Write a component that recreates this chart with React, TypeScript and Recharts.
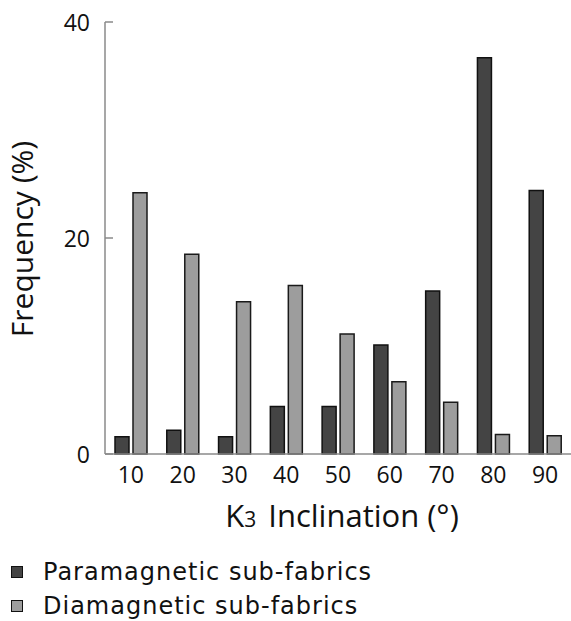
import React from "react";
import { BarChart, Bar, XAxis, YAxis, Legend } from "recharts";

const categories = ["10", "20", "30", "40", "50", "60", "70", "80", "90"];
const paramagnetic = [1.6, 2.2, 1.6, 4.4, 4.4, 10.1, 15.1, 36.7, 24.4];
const diamagnetic = [24.2, 18.5, 14.1, 15.6, 11.1, 6.7, 4.8, 1.8, 1.7];
const yTicks = [0, 20, 40];
const seriesNames = ["Paramagnetic sub-fabrics", "Diamagnetic sub-fabrics"];

const data = categories.map((c, i) => ({
  cat: c,
  para: paramagnetic[i],
  dia: diamagnetic[i],
}));

const AXIS_FONT = "'Open Sans', sans-serif";
const DARK = "#444444";
const LIGHT = "#9d9d9d";

const YTick = (props: any) => {
  const { x, y, payload } = props;
  return (
    <g>
      <line x1={x} y1={y} x2={x + 8} y2={y} stroke="#8a8a8a" strokeWidth={1.5} />
      <text x={x - 15} y={y + 8.5} textAnchor="end" fontFamily={AXIS_FONT} fontSize={23} fill="#111">
        {payload.value}
      </text>
    </g>
  );
};

const XTick = (props: any) => {
  const { x, y, payload } = props;
  return (
    <text x={x} y={y + 29} textAnchor="middle" fontFamily={AXIS_FONT} fontSize={23} fill="#111">
      {payload.value}
    </text>
  );
};

const XLabel = (props: any) => {
  const vb = props.viewBox || {};
  const cx = vb.x + vb.width / 2 + 4;
  return (
    <text x={cx} y={527} textAnchor="middle" fontFamily={AXIS_FONT} fontSize={31} fill="#111">
      K<tspan fontSize={21}>3</tspan>
      <tspan dx={12}>Inclination (°)</tspan>
    </text>
  );
};

const YLabel = (props: any) => {
  const vb = props.viewBox || {};
  const cy = vb.y + vb.height / 2 + 1;
  return (
    <text
      x={33}
      y={cy}
      textAnchor="middle"
      fontFamily={AXIS_FONT}
      fontSize={30}
      fill="#111"
      transform={`rotate(-90, 33, ${cy})`}
    >
      Frequency (%)
    </text>
  );
};

const LegendContent = () => {
  const colors = [DARK, LIGHT];
  return (
    <div
      style={{
        height: 66,
        paddingLeft: 11,
        fontFamily: "'DejaVu Sans', sans-serif",
        fontSize: 24,
        letterSpacing: 1,
        color: "#111",
      }}
    >
      {seriesNames.map((n, i) => (
        <div key={n} style={{ display: "flex", alignItems: "center", height: 34, lineHeight: "34px" }}>
          <span
            style={{
              display: "inline-block",
              width: 10,
              height: 10,
              background: colors[i],
              border: "1px solid #111",
              marginRight: 20,
            }}
          />
          <span>{n}</span>
        </div>
      ))}
    </div>
  );
};

export default function App() {
  return (
    <div style={{ position: "absolute", left: 0, top: 0, width: 571, height: 621, background: "#fff" }}>
      <BarChart
        width={571}
        height={621}
        data={data}
        margin={{ top: 22, right: 0, left: 45, bottom: 0 }}
        barCategoryGap={10}
        barGap={4}
      >
        <XAxis
          dataKey="cat"
          height={101}
          tickLine={false}
          tickSize={0}
          tickMargin={0}
          tick={<XTick />}
          axisLine={{ stroke: "#8a8a8a", strokeWidth: 1.5 }}
          label={{ content: <XLabel /> }}
          interval={0}
        />
        <YAxis
          width={60}
          domain={[0, 40]}
          ticks={yTicks}
          tickLine={false}
          tickSize={0}
          tickMargin={0}
          tick={<YTick />}
          axisLine={{ stroke: "#8a8a8a", strokeWidth: 1.5 }}
          label={{ content: <YLabel /> }}
        />
        <Legend verticalAlign="bottom" align="left" content={<LegendContent />} wrapperStyle={{ left: 0 }} />
        <Bar dataKey="para" name={seriesNames[0]} fill={DARK} stroke="#111" strokeWidth={1.5} isAnimationActive={false} />
        <Bar dataKey="dia" name={seriesNames[1]} fill={LIGHT} stroke="#1a1a1a" strokeWidth={1.5} isAnimationActive={false} />
      </BarChart>
    </div>
  );
}
